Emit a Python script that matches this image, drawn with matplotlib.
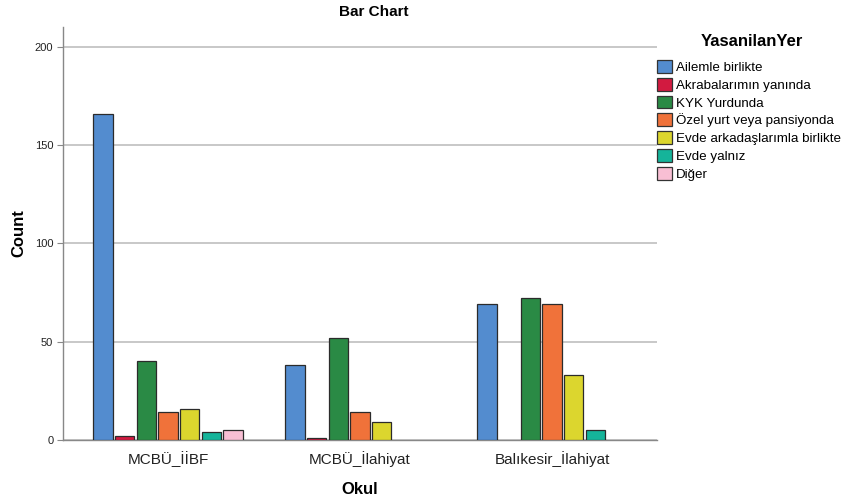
import numpy as np
import matplotlib
matplotlib.use("Agg")
import matplotlib.pyplot as plt
from matplotlib.patches import Patch

plt.rcParams['font.family'] = ['Liberation Sans', 'DejaVu Sans']

okul = ["MCBÜ_İİBF", "MCBÜ_İlahiyat", "Balıkesir_İlahiyat"]
yer = ["Ailemle birlikte", "Akrabalarımın yanında", "KYK Yurdunda",
       "Özel yurt veya pansiyonda", "Evde arkadaşlarımla birlikte",
       "Evde yalnız", "Diğer"]

ailemle = [166, 38, 69]
akraba = [2, 1, 0]
kyk = [40, 52, 72]
ozel = [14, 14, 69]
arkadas = [16, 9, 33]
yalniz = [4, 0, 5]
diger = [5, 0, 0]
counts = [ailemle, akraba, kyk, ozel, arkadas, yalniz, diger]

colors = ["#538ccf", "#d21a40", "#2a8a45", "#f0723a", "#dcd62e", "#15b49a", "#f8bfd4"]

fig = plt.figure(figsize=(8.44, 5.04), dpi=100)
ax = fig.add_axes([63/844, 1-440/504, 594/844, (440-27)/504])

x = np.arange(len(okul))
step = 0.113
w = 0.10
for i, vals in enumerate(counts):
    pos = x + (i - 3) * step
    v = np.array(vals, dtype=float)
    m = v > 0
    ax.bar(pos[m], v[m], width=w, color=colors[i], edgecolor="#2b2b2b",
           linewidth=0.9, zorder=3)

ax.set_xlim(-0.547, 2.547)
ax.set_ylim(0, 210)
ax.set_yticks([0, 50, 100, 150, 200])
ax.yaxis.grid(True, color="#c4c4c4", linewidth=1.3, zorder=0)
ax.set_axisbelow(True)
ax.set_xticks(x)
ax.set_xticklabels(okul, fontsize=11, color="#222222")
ax.tick_params(axis="x", length=0, pad=8)
ax.tick_params(axis="y", length=4, width=0.8, color="#888888", labelsize=8,
               labelcolor="#222222", pad=3)
for s in ["top", "right"]:
    ax.spines[s].set_visible(False)
for s in ["left", "bottom"]:
    ax.spines[s].set_color("#888888")
    ax.spines[s].set_linewidth(1.0)

ax.set_xlabel("Okul", fontsize=12, fontweight="bold", labelpad=11)
ax.set_ylabel("Count", fontsize=12, fontweight="bold", labelpad=6)
fig.text(374/844, 1-12/504, "Bar Chart", ha="center", va="center",
         fontsize=11, fontweight="bold")

# legend title drawn separately so it sits centred above the entries
fig.text(752/844, 1-42/504, "YasanilanYer", ha="center", va="center",
         fontsize=12, fontweight="bold")
handles = [Patch(facecolor=c, edgecolor="#333333", linewidth=0.9) for c in colors]
leg = fig.legend(handles, yer, loc="upper left", bbox_to_anchor=(657/844, 1-60/504),
                 frameon=False, fontsize=9.6,
                 handlelength=1.1, handleheight=1.1, handletextpad=0.3,
                 labelspacing=0.29, borderaxespad=0, borderpad=0)

fig.savefig("out.png", dpi=100)
